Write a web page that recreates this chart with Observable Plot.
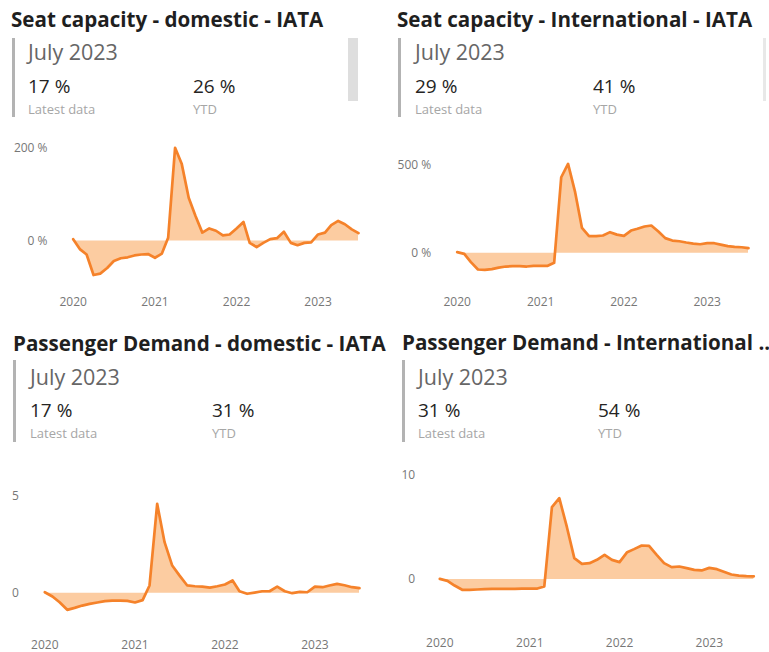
<!DOCTYPE html>
<html><head><meta charset="utf-8">
<script src="https://cdn.jsdelivr.net/npm/d3@7"></script>
<script src="https://cdn.jsdelivr.net/npm/@observablehq/plot@0.6"></script>
<style>
body{margin:0;background:#fff;font-family:"Open Sans",sans-serif;}
#root{position:relative;width:769px;height:652px;overflow:hidden;background:#fff;}
.abs{position:absolute;white-space:nowrap;line-height:1.362;}
.title{font-weight:700;color:#1f1f1f;}
.period{color:#666666;}
.val{color:#252423;}
.lab{color:#a6a6a6;}
.chart{position:absolute;}
</style></head><body><div id="root"></div><script>
// ---- data ----
const months = d3.utcMonths(new Date(Date.UTC(2020,0,1)), new Date(Date.UTC(2023,7,1)));
const yearTicks = [2020, 2021, 2022, 2023];
const titles = ["Seat capacity - domestic - IATA", "Seat capacity - International - IATA",
                "Passenger Demand - domestic - IATA", "Passenger Demand - International .."];
const period = "July 2023";
const latest = ["17 %", "29 %", "17 %", "31 %"];
const ytd = ["26 %", "41 %", "31 %", "54 %"];
const kpiLabels = ["Latest data", "YTD"];
const seatDom = [4,-18,-29,-73,-70,-58,-43,-37,-35,-31,-29,-28,-36,-27,7,200,165,93,54,18,27,22,12,14,27,41,-4,-13,-4,4,6,20,-4,-9,-4,-3,14,18,34,43,36,25,17];
const seatIntl = [6,-4,-51,-93,-95,-91,-82,-76,-74,-74,-76,-72,-72,-72,-55,433,509,348,144,97,97,101,120,106,99,129,139,152,158,124,86,72,68,61,55,51,57,57,49,40,36,34,29];
const paxDom = [0.05,-0.17,-0.47,-0.86,-0.76,-0.64,-0.55,-0.48,-0.41,-0.38,-0.38,-0.40,-0.48,-0.36,0.40,4.62,2.64,1.43,0.91,0.40,0.36,0.34,0.29,0.36,0.45,0.66,0.10,-0.03,0.03,0.10,0.10,0.34,0.10,0.0,0.07,0.05,0.34,0.31,0.40,0.48,0.41,0.31,0.26];
const paxIntl = [0.06,-0.13,-0.58,-0.99,-0.99,-0.96,-0.93,-0.90,-0.90,-0.90,-0.90,-0.87,-0.87,-0.87,-0.67,6.96,7.82,5.03,2.05,1.51,1.57,1.89,2.37,1.89,1.67,2.63,2.92,3.27,3.24,2.37,1.57,1.19,1.25,1.09,0.93,0.87,1.12,0.99,0.74,0.48,0.38,0.32,0.31];
const yTicks = [[0,200],[0,500],[0,5],[0,10]];
const yFormats = [d => d + " %", d => d + " %", d => String(d), d => String(d)];
const series = [seatDom, seatIntl, paxDom, paxIntl];

// ---- layout ----
const root = document.getElementById("root");
function txt(s, x, base, fs, cls){
  const e = document.createElement("div");
  e.className = "abs " + cls;
  e.textContent = s;
  e.style.left = x + "px";
  e.style.top = (base - 1.069*fs) + "px";
  e.style.fontSize = fs + "px";
  root.appendChild(e);
}
function rect(x, y, w, h, c){
  const e = document.createElement("div");
  e.style.cssText = `position:absolute;left:${x}px;top:${y}px;width:${w}px;height:${h}px;background:${c}`;
  root.appendChild(e);
}
const L = [
  {tx:11, tb:27, bx:12, by:38, bh:79, kx:28, yx:193, pb:60, vb:94.5, lb:115},
  {tx:397, tb:27, bx:398, by:38, bh:79, kx:415, yx:593, pb:60, vb:94.5, lb:115},
  {tx:13, tb:351, bx:13, by:360, bh:82, kx:30, yx:212, pb:385, vb:418.5, lb:439},
  {tx:402, tb:350, bx:402, by:360, bh:82, kx:418, yx:598, pb:385, vb:418.5, lb:439}
];
L.forEach((p, i) => {
  txt(titles[i], p.tx, p.tb, 20.6, "title");
  rect(p.bx, p.by, 3, p.bh, "#b3b3b3");
  txt(period, p.kx, p.pb, 21.5, "period");
  txt(latest[i], p.kx, p.vb, 19, "val");
  txt(ytd[i], p.yx, p.vb, 19, "val");
  txt(kpiLabels[0], p.kx, p.lb, 13, "lab");
  txt(kpiLabels[1], p.yx, p.lb, 13, "lab");
});
rect(348, 38, 10, 63, "#dedede");
rect(763, 38, 3, 63, "#e8e8e8");

const C = [
  {left:0, top:130, w:380, h:185, xr:[72.7,358], yr:[110.5,17.3], ml:51, mb:21},
  {left:380, top:130, w:389, h:185, xr:[76.7,368], yr:[122.7,35], ml:54.7, mb:21},
  {left:0, top:470, w:380, h:182, xr:[44.3,359], yr:[122.7,26], ml:22.3, mb:14.6},
  {left:380, top:460, w:389, h:192, xr:[59.3,373.3], yr:[119,15], ml:38.7, mb:16.6}
];
C.forEach((c, i) => {
  const data = months.map((m, k) => ({date: m, v: series[i][k]}));
  const plot = Plot.plot({
    width: c.w, height: c.h,
    marginLeft: c.ml, marginBottom: c.mb, marginTop: 0, marginRight: 0,
    style: {fontFamily: '"Open Sans", sans-serif', fontSize: "12px", color: "#777", background: "transparent", overflow: "visible"},
    x: {type: "utc", domain: [months[0], months[months.length-1]], range: c.xr},
    y: {domain: [0, yTicks[i][1]], range: c.yr},
    marks: [
      Plot.areaY(data, {x: "date", y: "v", fill: "#fccca1", curve: "linear"}),
      Plot.lineY(data, {x: "date", y: "v", stroke: "#f5822a", strokeWidth: 2.7, strokeLinejoin: "round"}),
      Plot.axisX({ticks: yearTicks.map(y => new Date(Date.UTC(y,0,1))), tickFormat: d3.utcFormat("%Y"), tickSize: 0, tickPadding: 3, label: null, fill: "#777"}),
      Plot.axisY({ticks: yTicks[i], tickFormat: yFormats[i], tickSize: 0, tickPadding: 4, label: null, fill: "#777"})
    ]
  });
  plot.classList.add("chart");
  plot.style.left = c.left + "px";
  plot.style.top = c.top + "px";
  root.appendChild(plot);
});
</script></body></html>
